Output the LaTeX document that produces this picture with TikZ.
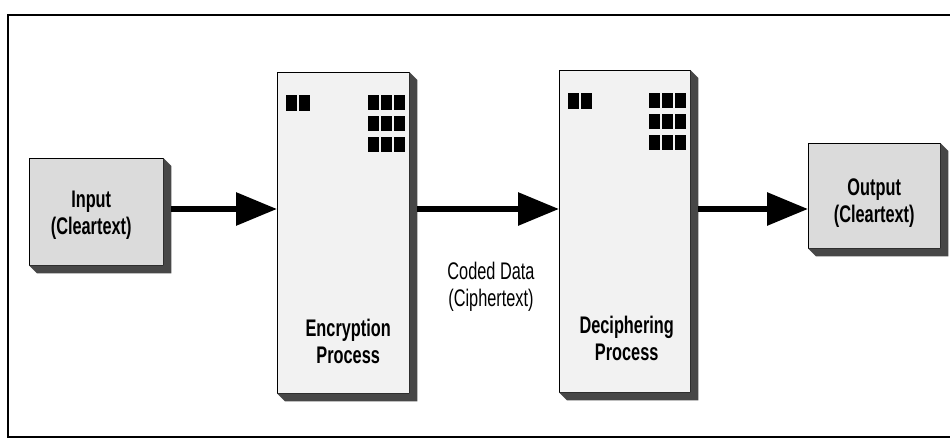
\documentclass[tikz,border=0pt]{standalone}
\usepackage{fontspec}
\setmainfont{Liberation Sans}[FakeStretch=0.68]
\usetikzlibrary{arrows.meta}

\begin{document}
\begin{tikzpicture}[x=1pt, y=-1pt,
    slab/.style={draw=black, thin, anchor=north west, inner sep=0pt},
    slabtext/.style={align=center, font=\fontsize{24}{27}\selectfont\bfseries},
    flowline/.style={line width=6pt, -{Triangle[length=41pt,width=32pt]}}]
    \useasboundingbox (0,0) rectangle (950,441);
    \draw[line width=2.5pt] (952,15) -- (8,15) -- (8,437) -- (952,437);
    \node[slab, fill=black!14, minimum width=134pt, minimum height=107pt] (inbox) at (29,158) {};
    \node[slab, fill=black!5, minimum width=132pt, minimum height=321pt] (encbox) at (277,72) {};
    \node[slab, fill=black!5, minimum width=131pt, minimum height=322pt] (decbox) at (559,70) {};
    \node[slab, fill=black!14, minimum width=132pt, minimum height=105pt] (outbox) at (808,143) {};
    \foreach \b in {inbox,encbox,decbox,outbox}
        \fill[black!72] (\b.north east) -- ++(8,8) -- ([shift={(8,8)}]\b.south east)
            -- ([shift={(8,8)}]\b.south west) -- (\b.south west) -- (\b.south east) -- cycle;
    \foreach \b in {encbox,decbox} {
        \foreach \i in {0,1}
            \fill ([shift={(9+\i*13,23)}]\b.north west) rectangle ++(11,16);
        \foreach \i in {0,1,2}
            \foreach \j in {0,1,2}
                \fill ([shift={(-41+\i*13,23+\j*21)}]\b.north east) rectangle ++(11,15);
    }
    \node[slabtext] (intext) at ([shift={(-5,4)}]inbox.center) {Input\\(Cleartext)};
    \node[slabtext] (enctext) at ([shift={(5,-52)}]encbox.south) {Encryption\\Process};
    \node[slabtext] (dectext) at ([shift={(2,-54)}]decbox.south) {Deciphering\\Process};
    \node[slabtext] (outtext) at ([shift={(0,7)}]outbox.center) {Output\\(Cleartext)};
    \node[align=center, font=\fontsize{24}{27}\selectfont] (coded) at (491,287) {Coded Data\\(Ciphertext)};
    \coordinate (flow) at (0,209);
    \draw[flowline] ([xshift=8pt]inbox.east |- flow) -- (encbox.west |- flow);
    \draw[flowline] ([xshift=8pt]encbox.east |- flow) -- (decbox.west |- flow);
    \draw[flowline] ([xshift=8pt]decbox.east |- flow) -- (outbox.west |- flow);
\end{tikzpicture}
\end{document}
